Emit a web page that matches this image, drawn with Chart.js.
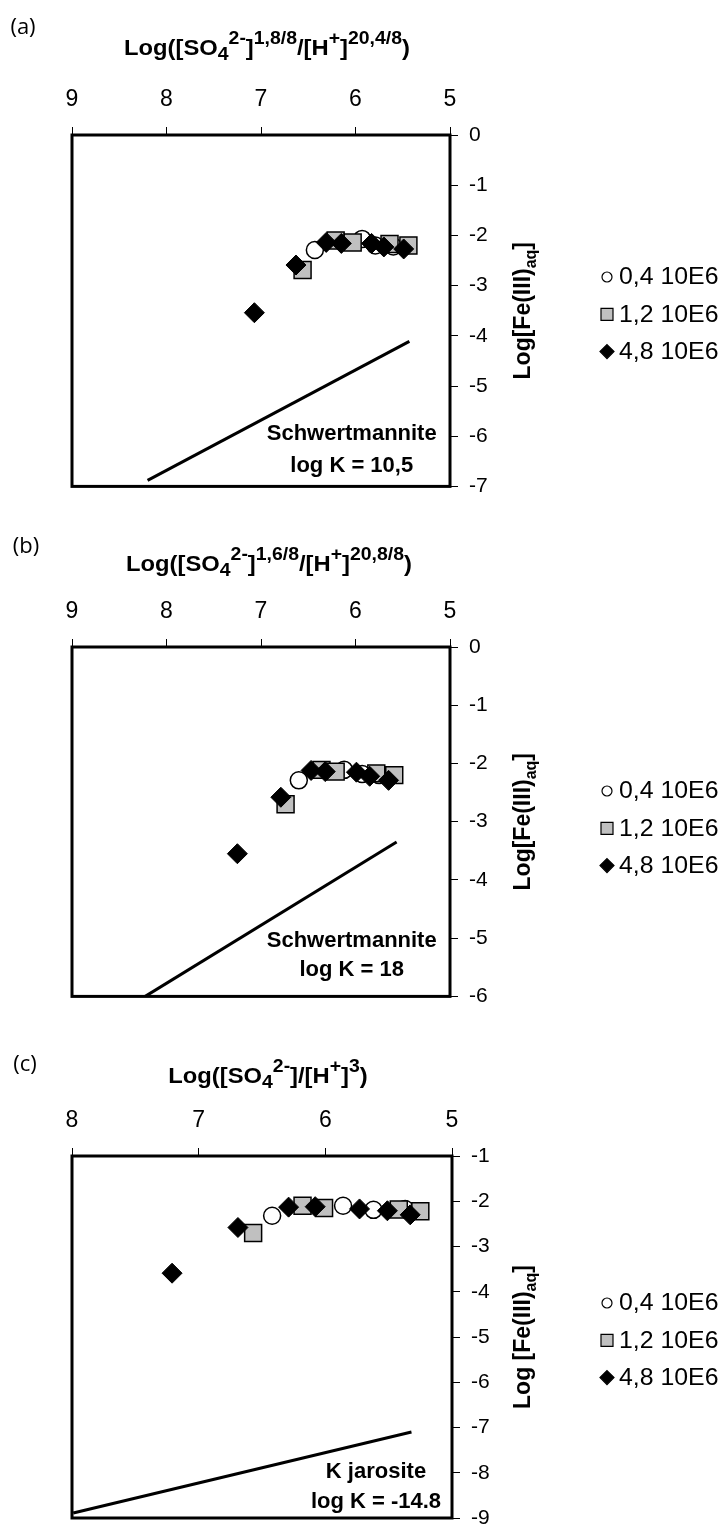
<!DOCTYPE html>
<html>
<head>
<meta charset="utf-8">
<script src="https://cdn.jsdelivr.net/npm/chart.js@4.4.1/dist/chart.umd.min.js"></script>
<style>
  html, body { margin: 0; padding: 0; background: #fff; overflow: hidden; }
  #wrap { position: relative; width: 726px; height: 1526px; overflow: hidden; }
  canvas { position: absolute; left: 0; }
</style>
</head>
<body>
<div id="wrap">
  <canvas id="chartA" width="726" height="510" style="top:0px"></canvas>
  <canvas id="chartB" width="726" height="510" style="top:510px"></canvas>
  <canvas id="chartC" width="726" height="530" style="top:1020px"></canvas>
</div>
<script>
'use strict';

// ---- tick labels ----
const xTicksA = [9, 8, 7, 6, 5];
const yTicksA = [0, -1, -2, -3, -4, -5, -6, -7];
const xTicksB = [9, 8, 7, 6, 5];
const yTicksB = [0, -1, -2, -3, -4, -5, -6];
const xTicksC = [8, 7, 6, 5];
const yTicksC = [-1, -2, -3, -4, -5, -6, -7, -8, -9];

const seriesLabels = ['0,4 10E6', '1,2 10E6', '4,8 10E6'];

// ---- panel (a) ----
const aCircleX = [6.43, 5.93, 5.79, 5.60];
const aCircleY = [-2.29, -2.07, -2.20, -2.22];
const aSquareX = [6.56, 6.21, 6.03, 5.64, 5.44];
const aSquareY = [-2.69, -2.10, -2.14, -2.17, -2.20];
const aDiamondX = [7.07, 6.63, 6.31, 6.15, 5.83, 5.70, 5.49];
const aDiamondY = [-3.54, -2.59, -2.14, -2.16, -2.16, -2.23, -2.27];
const aLineX = [8.20, 5.43];
const aLineY = [-6.88, -4.11];

// ---- panel (b) ----
const bCircleX = [6.60, 6.12, 5.93, 5.75];
const bCircleY = [-2.29, -2.11, -2.18, -2.20];
const bSquareX = [6.74, 6.36, 6.21, 5.78, 5.59];
const bSquareY = [-2.70, -2.11, -2.14, -2.17, -2.20];
const bDiamondX = [7.25, 6.79, 6.47, 6.32, 5.99, 5.85, 5.65];
const bDiamondY = [-3.55, -2.58, -2.12, -2.14, -2.15, -2.22, -2.29];
const bLineX = [8.225, 5.565];
const bLineY = [-6.0, -3.35];

// ---- panel (c) ----
const cCircleX = [6.42, 5.86, 5.62, 5.37];
const cCircleY = [-2.32, -2.10, -2.19, -2.17];
const cSquareX = [6.57, 6.18, 6.01, 5.42, 5.25];
const cSquareY = [-2.70, -2.10, -2.15, -2.18, -2.22];
const cDiamondX = [7.21, 6.69, 6.29, 6.08, 5.73, 5.51, 5.33];
const cDiamondY = [-3.59, -2.58, -2.13, -2.12, -2.17, -2.21, -2.30];
const cLineX = [7.99, 5.32];
const cLineY = [-8.89, -7.10];

const FONT = "'Liberation Sans', Arial, sans-serif";

function zip(xs, ys) {
    return xs.map((x, i) => ({ x: x, y: ys[i] }));
}

// draws text made of normal / superscript (^) / subscript (_) runs, centred on cx
// sx stretches the run horizontally (the original figure is a bit wider than its fonts)
function drawRich(ctx, parts, cx, cy, size, small, sx) {
    const widths = parts.map(p => {
        ctx.font = 'bold ' + (p[1] ? small : size) + 'px ' + FONT;
        return ctx.measureText(p[0]).width;
    });
    const total = widths.reduce((s, w) => s + w, 0);
    ctx.save();
    ctx.translate(cx, cy);
    ctx.scale(sx, 1);
    let x = -total / 2;
    const base = size * 0.35;
    ctx.textAlign = 'left';
    ctx.textBaseline = 'alphabetic';
    parts.forEach((p, i) => {
        ctx.font = 'bold ' + (p[1] ? small : size) + 'px ' + FONT;
        let y = base;
        if (p[1] === '^') y = base - size * 0.5;
        if (p[1] === '_') y = base + size * 0.25;
        ctx.fillText(p[0], x, y);
        x += widths[i];
    });
    ctx.restore();
}

function marker(ctx, kind, x, y, s) {
    ctx.beginPath();
    if (kind === 'circle') {
        ctx.arc(x, y, s, 0, Math.PI * 2);
        ctx.fillStyle = '#fff';
    } else if (kind === 'rect') {
        ctx.rect(x - s, y - s, 2 * s, 2 * s);
        ctx.fillStyle = '#c0c0c0';
    } else {
        ctx.moveTo(x, y - s); ctx.lineTo(x + s, y); ctx.lineTo(x, y + s); ctx.lineTo(x - s, y);
        ctx.closePath();
        ctx.fillStyle = '#000';
    }
    ctx.fill();
    ctx.lineWidth = 1.2;
    ctx.strokeStyle = '#000';
    ctx.stroke();
}

function decor(spec) {
    return {
        id: 'decor',
        afterDraw: function (chart) {
            const ctx = chart.ctx;
            const a = chart.chartArea;
            ctx.save();
            // frame
            ctx.lineWidth = 3;
            ctx.strokeStyle = '#000';
            ctx.strokeRect(a.left, a.top, a.right - a.left, a.bottom - a.top);

            ctx.fillStyle = '#000';
            // panel letter
            ctx.font = "22px 'Open Sans', sans-serif";
            ctx.textAlign = 'center';
            ctx.textBaseline = 'middle';
            ctx.fillText(spec.letter[0], spec.letter[1], spec.letter[2]);

            // x title
            drawRich(ctx, spec.xTitle, spec.xTitlePos[0], spec.xTitlePos[1], 22, 18, 1.08);

            // y title
            ctx.save();
            ctx.translate(522, (a.top + a.bottom) / 2);
            ctx.rotate(-Math.PI / 2);
            ctx.fillStyle = '#000';
            drawRich(ctx, spec.yTitle, 0, 0, 23, 16, 1);
            ctx.restore();

            // mineral note
            const xs = chart.scales.x, ys = chart.scales.y;
            ctx.fillStyle = '#000';
            ctx.font = 'bold 22px ' + FONT;
            ctx.textAlign = 'center';
            ctx.textBaseline = 'middle';
            spec.note.forEach(n => {
                ctx.fillText(n[0], xs.getPixelForValue(n[1]), ys.getPixelForValue(n[2]));
            });

            // legend
            const kinds = ['circle', 'rect', 'diamond'];
            const sizes = [5, 6, 7];
            kinds.forEach((k, i) => {
                const y = a.top + spec.legendTop + i * 37.3;
                marker(ctx, k, 607, y, sizes[i]);
                ctx.save();
                ctx.translate(619, y + 1);
                ctx.scale(1.08, 1);
                ctx.fillStyle = '#000';
                ctx.font = '23px ' + FONT;
                ctx.textAlign = 'left';
                ctx.textBaseline = 'middle';
                ctx.fillText(seriesLabels[i], 0, 0);
                ctx.restore();
            });
            ctx.restore();
        }
    };
}

function makeChart(id, spec) {
    const canvas = document.getElementById(id);
    const H = canvas.height;
    const ar = spec.area;
    const tickGrid = {
        display: true, drawOnChartArea: false, drawTicks: true,
        tickLength: 8, color: '#000', lineWidth: 1
    };
    new Chart(canvas.getContext('2d'), {
        type: 'scatter',
        data: {
            datasets: [
                {
                    label: seriesLabels[2], data: spec.diamonds, order: 1,
                    pointStyle: 'rectRot', radius: 10, backgroundColor: '#000',
                    borderColor: '#000', borderWidth: 1
                },
                {
                    label: seriesLabels[1], data: spec.squares, order: 2,
                    pointStyle: 'rect', radius: 12, backgroundColor: '#c0c0c0',
                    borderColor: '#000', borderWidth: 1.5
                },
                {
                    label: seriesLabels[0], data: spec.circles, order: 3,
                    pointStyle: 'circle', radius: 8.5, backgroundColor: '#fff',
                    borderColor: '#000', borderWidth: 1.5
                },
                {
                    label: 'line', data: spec.line, order: 4, showLine: true,
                    borderColor: '#000', borderWidth: 3, pointRadius: 0
                }
            ]
        },
        options: {
            responsive: false,
            animation: false,
            devicePixelRatio: 1,
            events: [],
            layout: { padding: { left: ar.l, right: 0, top: 0, bottom: H - ar.b } },
            plugins: { legend: { display: false }, tooltip: { enabled: false } },
            scales: {
                x: {
                    type: 'linear', position: 'top', reverse: true,
                    min: spec.xTicks[spec.xTicks.length - 1], max: spec.xTicks[0],
                    afterBuildTicks: s => { s.ticks = spec.xTicks.map(v => ({ value: v })); },
                    afterFit: s => { s.height = ar.t; },
                    grid: tickGrid,
                    border: { display: false },
                    ticks: { color: '#000', font: { family: FONT, size: 23 }, padding: 14, maxRotation: 0, autoSkip: false }
                },
                y: {
                    type: 'linear', position: 'right',
                    min: spec.yTicks[spec.yTicks.length - 1], max: spec.yTicks[0],
                    afterBuildTicks: s => { s.ticks = spec.yTicks.map(v => ({ value: v })); },
                    afterFit: s => { s.width = 726 - ar.r; },
                    grid: tickGrid,
                    border: { display: false },
                    ticks: { color: '#000', font: { family: FONT, size: 21 }, padding: 11, autoSkip: false }
                }
            }
        },
        plugins: [decor(spec)]
    });
}

makeChart('chartA', {
    area: { l: 72, r: 450, t: 135, b: 496 },
    xTicks: xTicksA, yTicks: yTicksA,
    circles: zip(aCircleX, aCircleY), squares: zip(aSquareX, aSquareY),
    diamonds: zip(aDiamondX, aDiamondY), line: zip(aLineX, aLineY),
    letter: ['(a)', 23, 28],
    xTitle: [['Log([SO', ''], ['4', '_'], ['2-', '^'], [']', ''], ['1,8/8', '^'], ['/[H', ''], ['+', '^'], [']', ''], ['20,4/8', '^'], [')', '']],
    xTitlePos: [267, 47],
    yTitle: [['Log[Fe(III)', ''], ['aq', '_'], [']', '']],
    note: [['Schwertmannite', 6.04, -5.96], ['log K = 10,5', 6.04, -6.59]],
    legendTop: 142
});

makeChart('chartB', {
    area: { l: 72, r: 450, t: 137, b: 496 },
    xTicks: xTicksB, yTicks: yTicksB,
    circles: zip(bCircleX, bCircleY), squares: zip(bSquareX, bSquareY),
    diamonds: zip(bDiamondX, bDiamondY), line: zip(bLineX, bLineY),
    letter: ['(b)', 26, 37],
    xTitle: [['Log([SO', ''], ['4', '_'], ['2-', '^'], [']', ''], ['1,6/8', '^'], ['/[H', ''], ['+', '^'], [']', ''], ['20,8/8', '^'], [')', '']],
    xTitlePos: [269, 53],
    yTitle: [['Log[Fe(III)', ''], ['aq', '_'], [']', '']],
    note: [['Schwertmannite', 6.04, -5.05], ['log K = 18', 6.04, -5.55]],
    legendTop: 144
});

makeChart('chartC', {
    area: { l: 72, r: 452, t: 136, b: 498 },
    xTicks: xTicksC, yTicks: yTicksC,
    circles: zip(cCircleX, cCircleY), squares: zip(cSquareX, cSquareY),
    diamonds: zip(cDiamondX, cDiamondY), line: zip(cLineX, cLineY),
    letter: ['(c)', 25, 45],
    xTitle: [['Log([SO', ''], ['4', '_'], ['2-', '^'], [']/[H', ''], ['+', '^'], [']', ''], ['3', '^'], [')', '']],
    xTitlePos: [268, 55],
    yTitle: [['Log [Fe(III)', ''], ['aq', '_'], [']', '']],
    note: [['K jarosite', 5.60, -7.98], ['log K = -14.8', 5.60, -8.64]],
    legendTop: 147
});
</script>
</body>
</html>
